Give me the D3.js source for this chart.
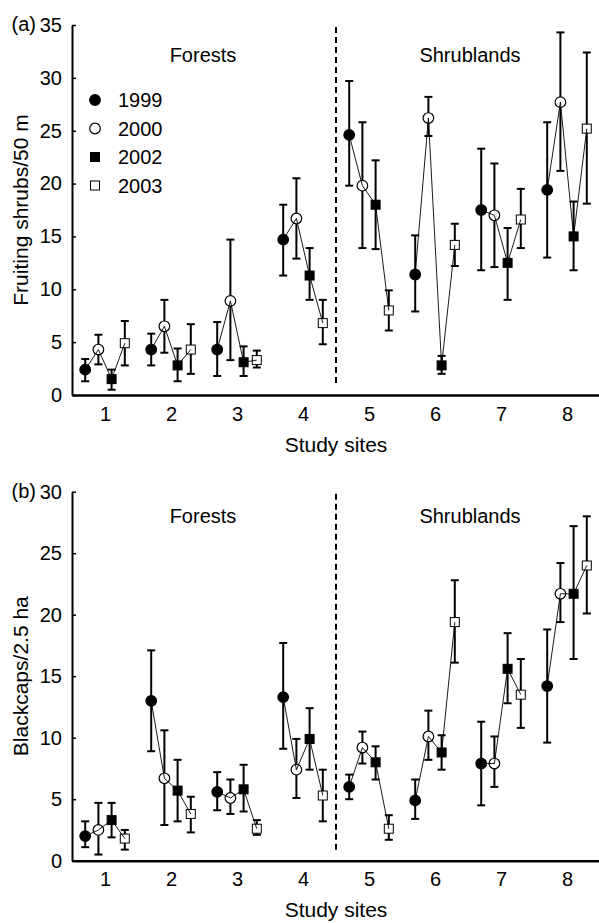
<!DOCTYPE html>
<html>
<head>
<meta charset="utf-8">
<script src="https://cdn.jsdelivr.net/npm/d3@7"></script>
<style>
body { margin: 0; background: #fff; }
text { font-family: "Liberation Sans", Arial, sans-serif; fill: #000; }
</style>
</head>
<body>
<script>
const sites = [1, 2, 3, 4, 5, 6, 7, 8]
const years = ['1999', '2000', '2002', '2003']
const shrubTicks = [0, 5, 10, 15, 20, 25, 30, 35]
const capTicks = [0, 5, 10, 15, 20, 25, 30]

// panel (a): fruiting shrubs per 50 m, one row per year, one value per site
const shrubMean = [
    [2.4, 4.3, 4.3, 14.7, 24.6, 11.4, 17.5, 19.4],
    [4.3, 6.5, 8.9, 16.7, 19.8, 26.2, 17.0, 27.7],
    [1.5, 2.8, 3.1, 11.3, 18.0, 2.8, 12.5, 15.0],
    [4.9, 4.3, 3.3, 6.8, 8.0, 14.2, 16.6, 25.2]
]
const shrubHigh = [
    [3.4, 5.8, 6.9, 18.0, 29.7, 15.1, 23.3, 25.8],
    [5.7, 9.0, 14.7, 20.5, 25.8, 28.2, 21.9, 34.3],
    [2.4, 4.4, 4.6, 13.9, 22.2, 3.7, 15.8, 18.3],
    [7.0, 6.7, 4.2, 9.0, 9.9, 16.2, 19.5, 32.4]
]
const shrubLow = [
    [1.3, 2.8, 1.8, 11.3, 19.8, 7.9, 11.8, 13.0],
    [2.9, 4.0, 3.3, 12.9, 13.9, 24.5, 12.1, 21.2],
    [0.5, 1.3, 1.8, 9.0, 13.8, 2.0, 9.0, 11.8],
    [2.8, 2.0, 2.6, 4.8, 6.1, 12.2, 13.9, 18.1]
]

// panel (b): blackcaps per 2.5 ha
const capMean = [
    [2.0, 13.0, 5.6, 13.3, 6.0, 4.9, 7.9, 14.2],
    [2.5, 6.7, 5.1, 7.4, 9.2, 10.1, 7.9, 21.7],
    [3.3, 5.7, 5.8, 9.9, 8.0, 8.8, 15.6, 21.7],
    [1.8, 3.8, 2.6, 5.3, 2.6, 19.4, 13.5, 24.0]
]
const capHigh = [
    [3.2, 17.1, 7.2, 17.7, 7.0, 6.6, 11.3, 18.8],
    [4.7, 10.6, 6.6, 9.9, 10.5, 12.2, 10.1, 24.2],
    [4.7, 8.2, 7.8, 12.4, 9.3, 10.2, 18.5, 27.2],
    [2.5, 5.2, 3.3, 7.4, 3.7, 22.8, 16.4, 28.0]
]
const capLow = [
    [1.1, 8.9, 4.1, 9.1, 5.0, 3.4, 4.5, 9.6],
    [0.5, 2.9, 3.8, 5.1, 7.9, 8.2, 6.0, 19.4],
    [1.9, 3.2, 4.0, 7.4, 6.6, 7.4, 12.8, 16.4],
    [0.9, 2.3, 2.1, 3.2, 1.7, 16.1, 10.8, 20.1]
]

var svg = d3.select('body')
    .append('svg')
    .attr('width', 599)
    .attr('height', 923)

var x = d3.scaleLinear().domain([0.5, 8.5]).range([72, 600])

// marker for year index i at (px, py)
function marker(g, i, px, py) {
    if (i < 2) {
        g.append('circle')
            .attr('cx', px).attr('cy', py).attr('r', 5.3)
            .attr('fill', i == 0 ? 'black' : 'white')
            .attr('stroke', 'black').attr('stroke-width', 1.2)
    } else {
        g.append('rect')
            .attr('x', px - 4.5).attr('y', py - 4.5)
            .attr('width', 9).attr('height', 9)
            .attr('fill', i == 2 ? 'black' : 'white')
            .attr('stroke', 'black').attr('stroke-width', 1)
    }
}

function drawPanel(p) {
    var y = d3.scaleLinear().domain([0, p.max]).range([p.bottom, p.top])
    var g = svg.append('g')

    var yAxis = g.append('g')
        .attr('transform', 'translate(72,0)')
        .call(d3.axisLeft(y).tickValues(p.ticks).tickSize(-4).tickSizeOuter(0).tickPadding(10))
    yAxis.selectAll('text').style('font-size', '20px').style('font-family', '"Liberation Sans", Arial, sans-serif')
    yAxis.selectAll('line').attr('stroke-width', 1.5)
    yAxis.select('.domain').attr('stroke-width', 2)

    var xAxis = g.append('g')
        .attr('transform', 'translate(0,' + p.bottom + ')')
        .call(d3.axisBottom(x).tickValues(sites).tickSize(0).tickSizeOuter(0).tickPadding(11.5))
    xAxis.selectAll('text').style('font-size', '20px').style('font-family', '"Liberation Sans", Arial, sans-serif')
    xAxis.select('.domain').attr('stroke-width', 2.5)

    g.append('line')
        .attr('x1', x(4.5)).attr('x2', x(4.5))
        .attr('y1', p.top + 2).attr('y2', p.bottom - 8)
        .attr('stroke', 'black').attr('stroke-width', 2)
        .attr('stroke-dasharray', '6,4')

    g.append('text').text('Forests')
        .attr('x', 203).attr('y', p.top + p.head)
        .attr('text-anchor', 'middle').style('font-size', '20px')
    g.append('text').text('Shrublands')
        .attr('x', 470).attr('y', p.top + p.head)
        .attr('text-anchor', 'middle').style('font-size', '20px')

    g.append('text').text(p.tag)
        .attr('x', 36).attr('y', p.top + 6)
        .attr('text-anchor', 'end').style('font-size', '20px')

    g.append('text').text(p.label)
        .attr('transform', 'translate(28,' + (p.top + p.bottom) / 2 + ') rotate(-90)')
        .attr('text-anchor', 'middle').style('font-size', '21px')

    g.append('text').text('Study sites')
        .attr('x', 336).attr('y', p.bottom + 56.5)
        .attr('text-anchor', 'middle').style('font-size', '21px')

    function px(s, i) { return x(s + (i - 1.5) * 0.2) }

    // error bars
    years.forEach(function(yr, i) {
        sites.forEach(function(s, j) {
            var cx = px(s, i)
            g.append('line')
                .attr('x1', cx).attr('x2', cx)
                .attr('y1', y(p.low[i][j])).attr('y2', y(p.high[i][j]))
                .attr('stroke', 'black').attr('stroke-width', 2)
            ;[p.low[i][j], p.high[i][j]].forEach(function(v) {
                g.append('line')
                    .attr('x1', cx - 4).attr('x2', cx + 4)
                    .attr('y1', y(v)).attr('y2', y(v))
                    .attr('stroke', 'black').attr('stroke-width', 2)
            })
        })
    })

    // markers
    years.forEach(function(yr, i) {
        sites.forEach(function(s, j) {
            marker(g, i, px(s, i), y(p.mean[i][j]))
        })
    })

    // connecting line inside each site
    var line = d3.line()
        .x(function(d) { return px(d.s, d.i) })
        .y(function(d) { return y(d.v) })
    sites.forEach(function(s, j) {
        var pts = years.map(function(yr, i) { return { s: s, i: i, v: p.mean[i][j] } })
        g.append('path')
            .attr('d', line(pts))
            .attr('fill', 'none')
            .attr('stroke', 'black')
            .attr('stroke-width', 0.9)
    })

    if (p.legend) {
        years.forEach(function(yr, i) {
            var ly = 100 + i * 28.5
            marker(g, i, 95, ly)
            g.append('text').text(yr)
                .attr('x', 118).attr('y', ly)
                .attr('dy', '0.35em')
                .style('font-size', '20px')
        })
    }
}

drawPanel({ top: 25, bottom: 395, max: 35, ticks: shrubTicks, head: 37, tag: '(a)',
    label: 'Fruiting shrubs/50 m', mean: shrubMean, high: shrubHigh, low: shrubLow, legend: true })
drawPanel({ top: 491.7, bottom: 860.7, max: 30, ticks: capTicks, head: 31.6, tag: '(b)',
    label: 'Blackcaps/2.5 ha', mean: capMean, high: capHigh, low: capLow, legend: false })
</script>
</body>
</html>
